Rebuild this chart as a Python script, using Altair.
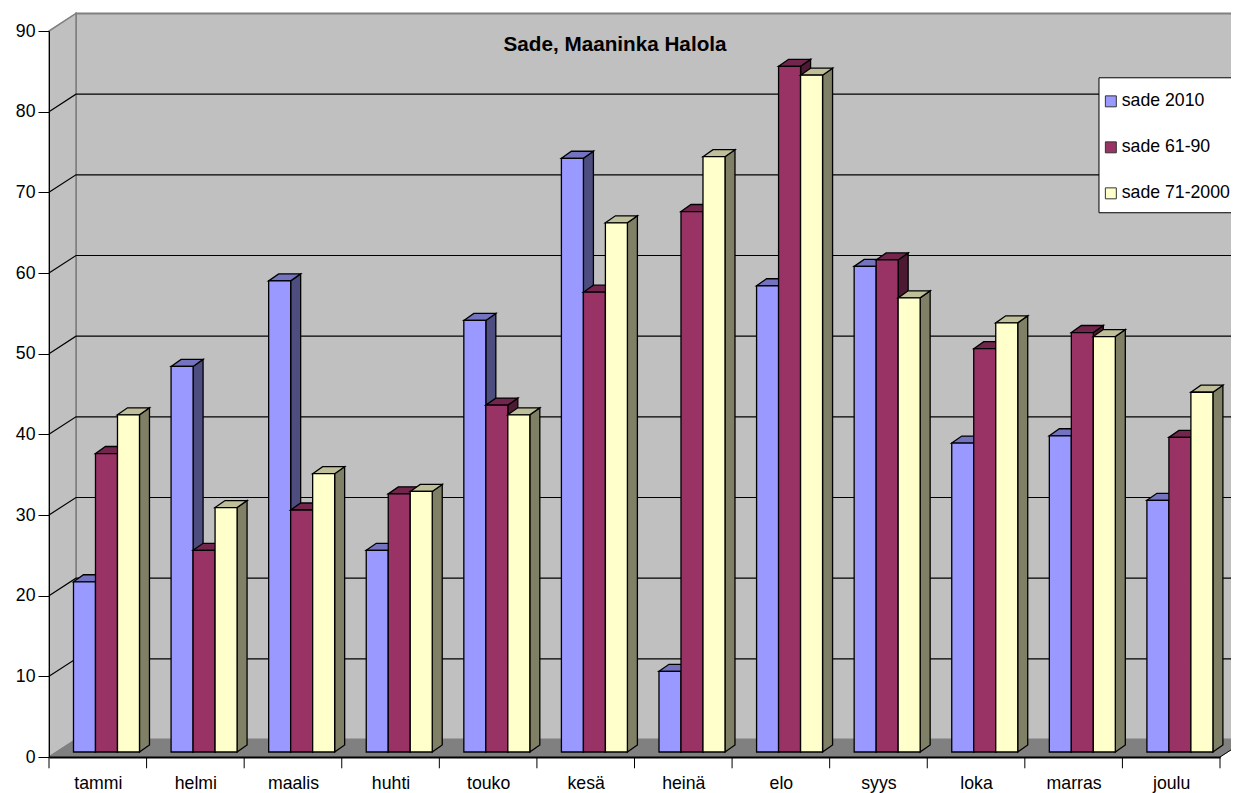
import altair as alt
import pandas as pd

months = ["tammi", "helmi", "maalis", "huhti", "touko", "kesä", "heinä", "elo", "syys", "loka", "marras", "joulu"]
sade_2010 = [21.1, 47.8, 58.4, 25.0, 53.5, 73.6, 10.0, 57.8, 60.2, 38.3, 39.2, 31.2]
sade_6190 = [37.0, 25.0, 30.0, 32.0, 43.0, 57.0, 67.0, 85.0, 61.0, 50.0, 52.0, 39.0]
sade_7100 = [41.8, 30.3, 34.5, 32.3, 41.8, 65.6, 73.8, 83.9, 56.3, 53.2, 51.5, 44.6]
series_names = ["sade 2010", "sade 61-90", "sade 71-2000"]
front_colors = ["#9999FF", "#993366", "#FFFFCC"]
side_colors = ["#4D4D80", "#4D1A33", "#808066"]
top_colors = ["#7373BF", "#73264D", "#BFBF99"]
y_ticks = [0, 10, 20, 30, 40, 50, 60, 70, 80, 90]

# projection of the pseudo-3D box, in data units
WALL_DX, WALL_DY = 0.2766, 2.17
BAR_DX, BAR_DY = 0.1025, 0.87
BAR_LIFT = 0.62
BAR_START, BAR_W = 0.251, 0.2254
N = len(months)
X_END = 12.19  # the walls run to the picture's right edge
LINE = 1.3

X = alt.X("x:Q", title=None, scale=alt.Scale(domain=[0, N], nice=False, zero=False),
          axis=alt.Axis(values=[i + 0.5 for i in range(N)], grid=False, tickSize=0, tickCount=N,
                        labelExpr="[" + ",".join(f"'{m}'" for m in months) + "][round(datum.value-0.5)]",
                        labelFont="Liberation Sans", labelFontSize=17.7, labelColor="#000", labelPadding=17,
                        labelOverlap=False, domainColor="#000", domainWidth=2, zindex=1))
Y = alt.Y("y:Q", title=None, scale=alt.Scale(domain=[0, 90], nice=False, zero=False),
          axis=alt.Axis(values=y_ticks, grid=False, tickSize=11, tickColor="#000", tickWidth=1,
                        labelFont="Liberation Sans", labelFontSize=17.7, labelColor="#000", labelPadding=3,
                        domainColor="#000", domainWidth=1, zindex=1))
Y2 = alt.Y2("y2:Q")


def area(points, fill, stroke, sw=LINE):
    df = pd.DataFrame(points, columns=["k", "x", "y", "y2"])
    return alt.Chart(df).mark_area(fill=fill, stroke=stroke, strokeWidth=sw, opacity=1, interpolate="linear", clip=False).encode(
        x=X, y=Y, y2=Y2, detail="k:N")


T = 90
END_LOW = WALL_DY * (X_END - N) / WALL_DX
layers = []
layers.append(area([(0, WALL_DX, WALL_DY, T + WALL_DY), (0, X_END + 0.02, WALL_DY, T + WALL_DY)], "#C0C0C0", "#808080", 2))
layers.append(area([(0, 0, 0, T), (0, WALL_DX, WALL_DY, T + WALL_DY)], "#C0C0C0", "#808080", 1.5))
layers.append(area([(0, 0, 0, 0), (0, WALL_DX, WALL_DY, 0), (0, N, WALL_DY, 0), (0, X_END, WALL_DY, END_LOW)], "#808080", "#808080", 1))

grid_rows = []
for v in y_ticks[1:-1]:
    grid_rows += [(v, 0, v), (v, WALL_DX, v + WALL_DY), (v, X_END, v + WALL_DY)]
layers.append(alt.Chart(pd.DataFrame(grid_rows, columns=["k", "x", "y"])).mark_line(color="#000", strokeWidth=1.2).encode(
    x=X, y=Y, detail="k:N"))

# tick marks under the category axis and the floor's right edge
tick_df = pd.DataFrame({"x": list(range(N + 1)), "y": [0] * (N + 1), "y2": [-1.4] * (N + 1)})
layers.append(alt.Chart(tick_df).mark_rule(color="#000", strokeWidth=1).encode(x=X, y=Y, y2=Y2))
layers.append(alt.Chart(pd.DataFrame({"x": [N, X_END], "y": [0, END_LOW]})).mark_line(color="#000", strokeWidth=1).encode(x=X, y=Y))

color = alt.Color("series:N", scale=alt.Scale(domain=series_names, range=front_colors),
                  legend=alt.Legend(title=None, orient="none", legendX=1053, legendY=61.5, padding=0,
                                    symbolType="square", symbolSize=120, symbolStrokeColor="#333", symbolStrokeWidth=1,
                                    labelFont="Liberation Sans", labelFontSize=17.7, labelColor="#000", labelOffset=2,
                                    rowPadding=27, fillColor="transparent", strokeColor="transparent"))

for s, values in enumerate([sade_2010, sade_6190, sade_7100]):
    side, top, front = [], [], []
    for m, v in enumerate(values):
        x0 = m + BAR_START + s * BAR_W
        x1 = x0 + BAR_W
        t = v + BAR_LIFT
        side += [(m, x1, t, BAR_LIFT), (m, x1 + BAR_DX, t + BAR_DY, BAR_LIFT + BAR_DY)]
        top += [(m, x0, t, t), (m, x0 + BAR_DX, t + BAR_DY, t), (m, x1, t + BAR_DY, t), (m, x1 + BAR_DX, t + BAR_DY, t + BAR_DY)]
        front.append({"x": x0, "x2": x1, "y": t, "y2": BAR_LIFT, "series": series_names[s]})
    layers.append(area(side, side_colors[s], "#000"))
    layers.append(area(top, top_colors[s], "#000"))
    layers.append(alt.Chart(pd.DataFrame(front)).mark_rect(stroke="#000", strokeWidth=LINE, opacity=1).encode(
        x=X, x2=alt.X2("x2:Q"), y=Y, y2=Y2, color=color))

# legend box, behind the legend itself
box = pd.DataFrame({"x": [10.76], "x2": [X_END + 0.05], "y": [84.2], "y2": [67.47]})
layers.append(alt.Chart(box).mark_rect(fill="#fff", stroke="#000", strokeWidth=1, opacity=1).encode(
    x=X, x2=alt.X2("x2:Q"), y=Y, y2=Y2))

chart = alt.layer(*layers).properties(
    width=1171, height=726,
    title=alt.TitleParams("Sade, Maaninka Halola", font="Liberation Sans", fontSize=20.7, fontWeight="bold", color="#000",
                          anchor="middle", dx=-19.5, dy=50),
    padding={"left": 41, "right": 11, "top": 23, "bottom": 36},
    autosize=alt.AutoSizeParams(type="none"),
).configure_view(stroke=None)

chart.save("out.html", embed_options={"renderer": "svg", "actions": False})
